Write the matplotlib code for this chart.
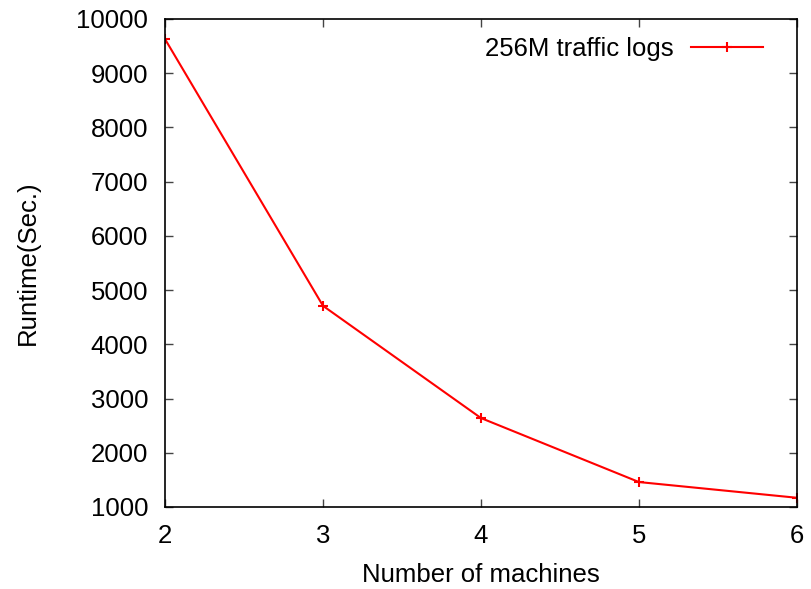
import matplotlib
matplotlib.use("Agg")
import matplotlib.pyplot as plt

machines = [2, 3, 4, 5, 6]
runtime = [9630, 4710, 2640, 1460, 1170]
series_label = "256M traffic logs"

plt.rcParams['font.family'] = ['Liberation Sans', 'DejaVu Sans']
plt.rcParams['font.size'] = 18.5

fig = plt.figure(figsize=(8.11, 5.89), dpi=100)
ax = fig.add_axes([165 / 811, 1 - 507 / 589, (797 - 165) / 811, (507 - 19) / 589])

ax.plot(machines, runtime, color='red', linewidth=1.5, marker='+',
        markersize=6.5, markeredgewidth=1.5, label=series_label)

ax.set_xlim(2, 6)
ax.set_ylim(1000, 10000)
ax.set_xticks(machines)
ax.set_yticks(range(1000, 10001, 1000))
ax.tick_params(direction='in', length=6, width=1, top=True, right=True,
               pad=12, color='#444444')
for s in ax.spines.values():
    s.set_linewidth(1.2)

ax.set_xlabel("Number of machines", labelpad=11)
ax.set_ylabel("Runtime(Sec.)", labelpad=26)

ax.legend(loc='upper right', frameon=False, markerfirst=False,
          handlelength=2.8, handletextpad=0.7, borderaxespad=0.3,
          bbox_to_anchor=(0.975, 1.0))

fig.savefig("out.png", dpi=100)
